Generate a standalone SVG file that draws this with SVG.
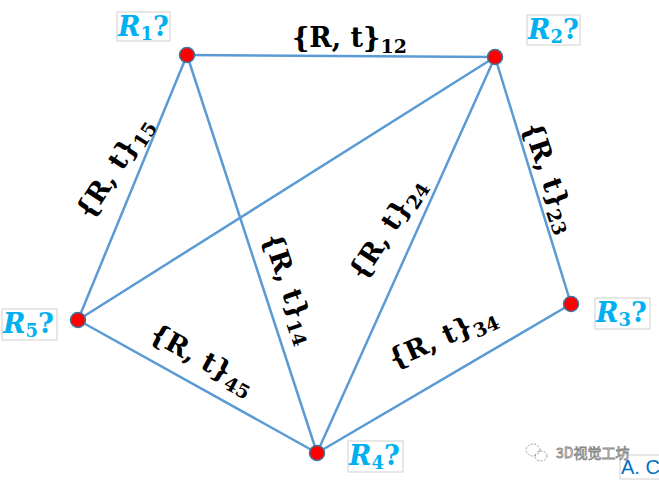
<svg xmlns="http://www.w3.org/2000/svg" width="659" height="480" viewBox="0 0 659 480">
<style>
.edge{stroke:#5b9bd5;stroke-width:2.5;fill:none;stroke-linecap:round}
.node{fill:#ff0000;stroke:#41719c;stroke-width:1.5}
.lbl{font-family:"DejaVu Serif","Liberation Serif",serif;font-weight:bold;font-size:27px;fill:#000}
.sub{font-size:19px}
.rbox{fill:#fff;stroke:#d0d0d0;stroke-width:1}
.rt{font-family:"DejaVu Serif","Liberation Serif",serif;font-weight:bold;font-size:27px;fill:#00b0f0}
.ri{font-style:italic}
.rs{font-size:18px;font-style:normal}
</style>
<rect width="659" height="480" fill="#fff"/>
<g id="connectors">
<line class="edge" x1="187" y1="55" x2="495" y2="57"/>
<line class="edge" x1="187" y1="55" x2="78" y2="320"/>
<line class="edge" x1="187" y1="55" x2="317" y2="453"/>
<line class="edge" x1="495" y1="57" x2="78" y2="320"/>
<line class="edge" x1="495" y1="57" x2="317" y2="453"/>
<line class="edge" x1="495" y1="57" x2="571" y2="304"/>
<line class="edge" x1="571" y1="304" x2="317" y2="453"/>
<line class="edge" x1="78" y1="320" x2="317" y2="453"/>
</g>
<g id="edge-labels">
<text class="lbl" x="292" y="47">{R, t}<tspan class="sub" dy="6">12</tspan></text>
<text class="lbl" text-anchor="middle" transform="translate(115,168) rotate(-57)" y="8">{R, t}<tspan class="sub" dy="6">15</tspan></text>
<text class="lbl" text-anchor="middle" transform="translate(289,289) rotate(71)" y="8">{R, t}<tspan class="sub" dy="6">14</tspan></text>
<text class="lbl" text-anchor="middle" transform="translate(388,229) rotate(-57)" y="8">{R, t}<tspan class="sub" dy="6">24</tspan></text>
<text class="lbl" text-anchor="middle" transform="translate(549,178) rotate(71)" y="8">{R, t}<tspan class="sub" dy="6">23</tspan></text>
<text class="lbl" text-anchor="middle" transform="translate(443,338) rotate(-24)" y="8">{R, t}<tspan class="sub" dy="6">34</tspan></text>
<text class="lbl" text-anchor="middle" transform="translate(202,360) rotate(29)" y="8">{R, t}<tspan class="sub" dy="6">45</tspan></text>
</g>
<g id="R1">
<circle class="node" cx="187" cy="55" r="7.5"/>
<rect class="rbox" x="117" y="12" width="53" height="29"/>
<text class="rt" x="118" y="36"><tspan class="ri">R</tspan><tspan class="rs" dy="4">1</tspan><tspan dy="-4">?</tspan></text>
</g>
<g id="R2">
<circle class="node" cx="495" cy="57" r="7.5"/>
<rect class="rbox" x="527" y="15" width="53" height="30"/>
<text class="rt" x="528" y="39"><tspan class="ri">R</tspan><tspan class="rs" dy="4">2</tspan><tspan dy="-4">?</tspan></text>
</g>
<g id="R3">
<circle class="node" cx="571" cy="304" r="7.5"/>
<rect class="rbox" x="595" y="298" width="55" height="31"/>
<text class="rt" x="596" y="322"><tspan class="ri">R</tspan><tspan class="rs" dy="4">3</tspan><tspan dy="-4">?</tspan></text>
</g>
<g id="R4">
<circle class="node" cx="317" cy="453" r="7.5"/>
<rect class="rbox" x="348" y="441" width="55" height="31"/>
<text class="rt" x="349" y="465"><tspan class="ri">R</tspan><tspan class="rs" dy="4">4</tspan><tspan dy="-4">?</tspan></text>
</g>
<g id="R5">
<circle class="node" cx="78" cy="320" r="7.5"/>
<rect class="rbox" x="2" y="309" width="55" height="31"/>
<text class="rt" x="3" y="333"><tspan class="ri">R</tspan><tspan class="rs" dy="4">5</tspan><tspan dy="-4">?</tspan></text>
</g>
<g id="watermark">
<rect x="620" y="455" width="45" height="24" fill="#fff" stroke="#d0d0d0"/>
<text x="621" y="474" font-family="Liberation Sans,Arial,sans-serif" font-size="20" fill="#0070c0">A. C</text>
<g fill="none" stroke="#999" stroke-width="1" stroke-dasharray="2,1.5">
<ellipse cx="533" cy="450" rx="7" ry="6"/>
<ellipse cx="541" cy="456" rx="6" ry="5"/>
</g>
<text x="556" y="458" font-family="Noto Sans CJK SC,sans-serif" font-size="14" fill="#fff" stroke="#888" stroke-width="0.8">3D视觉工坊</text>
</g>
</svg>
